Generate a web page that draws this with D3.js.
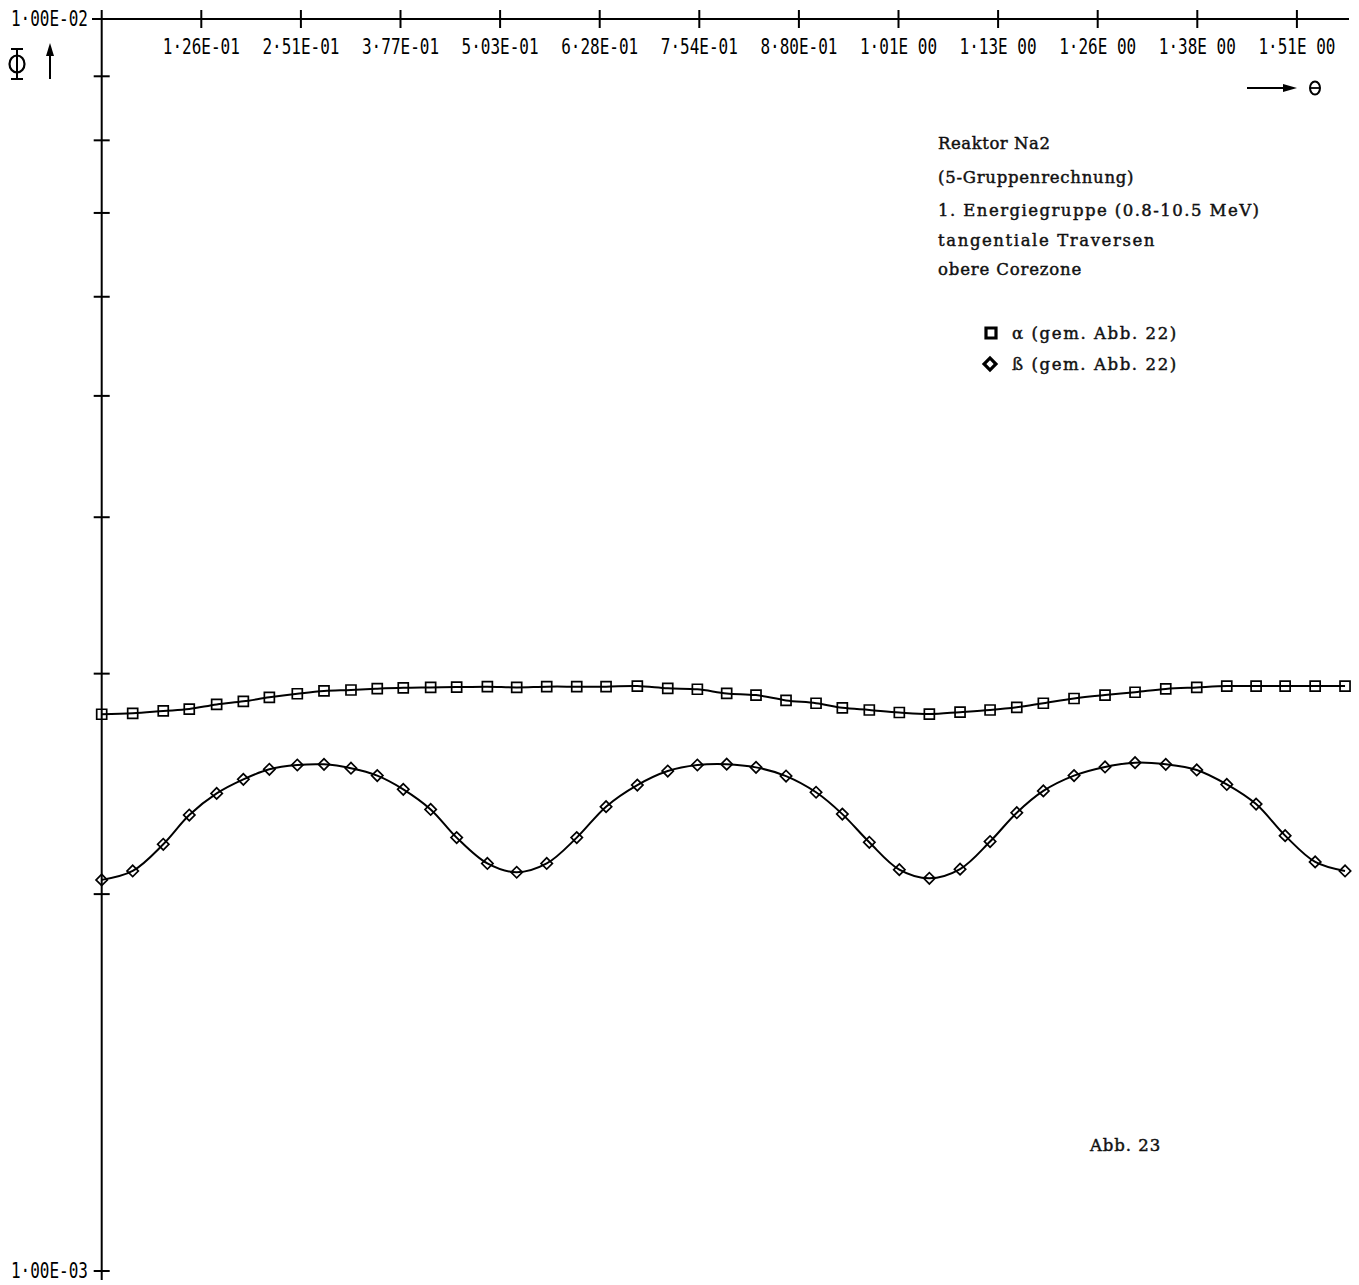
<!DOCTYPE html>
<html>
<head>
<meta charset="utf-8">
<script src="https://cdn.jsdelivr.net/npm/d3@7"></script>
<style>
  body { margin: 0; background: #fff; }
  svg { display: block; }
  .plot { font-family: 'DejaVu Sans Mono', monospace; }
</style>
</head>
<body>
<script>
// angle of each traverse point (degrees)
const thetaDeg = [0, 2.24, 4.45, 6.33, 8.31, 10.24, 12.12, 14.14, 16.07, 18.02, 19.92, 21.8, 23.78, 25.66, 27.88,
  30.0, 32.17, 34.34, 36.46, 38.72, 40.92, 43.06, 45.18, 47.3, 49.47, 51.64, 53.54, 55.49, 57.66,
  59.83, 62.05, 64.22, 66.15, 68.07, 70.29, 72.53, 74.7, 76.92, 79.16, 81.33, 83.45, 85.55, 87.72, 89.88];

// flux values in units of 1e-3
const alphaVals = [2.784, 2.789, 2.801, 2.811, 2.835, 2.851, 2.872, 2.891, 2.906, 2.911, 2.918, 2.923, 2.925, 2.927, 2.929,
  2.925, 2.929, 2.929, 2.929, 2.932, 2.92, 2.915, 2.893, 2.884, 2.856, 2.841, 2.817, 2.806, 2.793,
  2.785, 2.795, 2.806, 2.82, 2.841, 2.866, 2.884, 2.899, 2.917, 2.925, 2.932, 2.932, 2.932, 2.932, 2.932];

const betaVals = [2.053, 2.087, 2.192, 2.313, 2.407, 2.47, 2.516, 2.536, 2.539, 2.521, 2.487, 2.425, 2.337, 2.219, 2.116,
  2.082, 2.116, 2.219, 2.349, 2.444, 2.508, 2.536, 2.54, 2.525, 2.485, 2.412, 2.317, 2.2, 2.092,
  2.059, 2.094, 2.203, 2.323, 2.418, 2.487, 2.527, 2.547, 2.539, 2.513, 2.447, 2.36, 2.227, 2.122, 2.087];

const xTickLabels = ['1·26E-01', '2·51E-01', '3·77E-01', '5·03E-01', '6·28E-01', '7·54E-01',
  '8·80E-01', '1·01E 00', '1·13E 00', '1·26E 00', '1·38E 00', '1·51E 00'];
const xTickValues = d3.range(1, 13).map(i => i * Math.PI / 25);

const yTickValues = [1e-3, 2e-3, 3e-3, 4e-3, 5e-3, 6e-3, 7e-3, 8e-3, 9e-3, 1e-2];
const yEndLabels = [{ v: 1e-2, t: '1·00E-02' }, { v: 1e-3, t: '1·00E-03' }];

const noteLines = ['Reaktor Na2', '(5-Gruppenrechnung)', '1. Energiegruppe (0.8-10.5 MeV)',
  'tangentiale Traversen', 'obere Corezone'];
const noteY = [143, 177, 210, 240, 269];

drawChart();

// typewriter-like text: serif face spread to a fixed pitch
function typeText(sel, str, px, py) {
  return sel.append('text')
    .attr('x', px).attr('y', py)
    .attr('font-family', 'DejaVu Serif, Liberation Serif, serif')
    .attr('font-size', 16.5)
    .attr('fill', '#111')
    .attr('stroke', '#111')
    .attr('stroke-width', 0.45)
    .attr('textLength', str.length * 10.45 - 3)
    .attr('lengthAdjust', 'spacing')
    .text(str);
}

function drawChart() {
  let width = 1359, height = 1285;
  let svg = d3.select('body').append('svg').attr('width', width).attr('height', height).attr('class', 'plot');
  svg.append('rect').attr('width', width).attr('height', height).attr('fill', '#fff');

  let x = d3.scaleLinear().domain([0, Math.PI / 2]).range([101.7, 1346.7]);
  let y = d3.scaleLog().domain([1e-3, 1e-2]).range([1271, 19]);

  // top axis (theta)
  svg.append('line').attr('x1', 92).attr('x2', 1349).attr('y1', y(1e-2)).attr('y2', y(1e-2))
    .attr('stroke', '#000').attr('stroke-width', 2);
  svg.selectAll('.xtick').data(xTickValues).enter().append('line')
    .attr('class', 'xtick')
    .attr('x1', d => x(d)).attr('x2', d => x(d))
    .attr('y1', y(1e-2) - 9).attr('y2', y(1e-2) + 9)
    .attr('stroke', '#000').attr('stroke-width', 2);
  svg.selectAll('.xlab').data(xTickValues).enter().append('text')
    .attr('class', 'xlab')
    .attr('transform', d => `translate(${x(d)},54) scale(1,1.35)`)
    .attr('text-anchor', 'middle')
    .attr('font-size', 16)
    .text((d, i) => xTickLabels[i]);

  // left axis (phi, log)
  svg.append('line').attr('x1', x(0)).attr('x2', x(0)).attr('y1', 10).attr('y2', 1280)
    .attr('stroke', '#000').attr('stroke-width', 2);
  svg.selectAll('.ytick').data(yTickValues).enter().append('line')
    .attr('class', 'ytick')
    .attr('x1', x(0) - 8).attr('x2', x(0) + 8)
    .attr('y1', d => y(d)).attr('y2', d => y(d))
    .attr('stroke', '#000').attr('stroke-width', 2);
  svg.selectAll('.ylab').data(yEndLabels).enter().append('text')
    .attr('class', 'ylab')
    .attr('transform', d => `translate(88,${y(d.v) + 7}) scale(1,1.35)`)
    .attr('text-anchor', 'end')
    .attr('font-size', 16)
    .text(d => d.t);

  // axis symbols
  svg.append('ellipse').attr('cx', 17).attr('cy', 64).attr('rx', 7.5).attr('ry', 8.5)
    .attr('fill', 'none').attr('stroke', '#000').attr('stroke-width', 2.2);
  svg.append('line').attr('x1', 17).attr('x2', 17).attr('y1', 49).attr('y2', 79).attr('stroke', '#000').attr('stroke-width', 2);
  svg.append('line').attr('x1', 11).attr('x2', 23).attr('y1', 49).attr('y2', 49).attr('stroke', '#000').attr('stroke-width', 2);
  svg.append('line').attr('x1', 11).attr('x2', 23).attr('y1', 79).attr('y2', 79).attr('stroke', '#000').attr('stroke-width', 2);
  svg.append('line').attr('x1', 50).attr('x2', 50).attr('y1', 52).attr('y2', 79).attr('stroke', '#000').attr('stroke-width', 2);
  svg.append('path').attr('d', 'M50,43 L46,56 L54,56 Z').attr('fill', '#000');

  svg.append('line').attr('x1', 1247).attr('x2', 1286).attr('y1', 88).attr('y2', 88).attr('stroke', '#000').attr('stroke-width', 2);
  svg.append('path').attr('d', 'M1297,88 L1283,84 L1283,92 Z').attr('fill', '#000');
  svg.append('ellipse').attr('cx', 1315).attr('cy', 88).attr('rx', 5).attr('ry', 6.5)
    .attr('fill', 'none').attr('stroke', '#000').attr('stroke-width', 2);
  svg.append('line').attr('x1', 1310).attr('x2', 1320).attr('y1', 88).attr('y2', 88).attr('stroke', '#000').attr('stroke-width', 1.8);

  // curves
  let alphaData = thetaDeg.map((t, i) => [t * Math.PI / 180, alphaVals[i] * 1e-3]);
  let betaData = thetaDeg.map((t, i) => [t * Math.PI / 180, betaVals[i] * 1e-3]);
  let line = d3.line().x(d => x(d[0])).y(d => y(d[1])).curve(d3.curveCatmullRom.alpha(0.5));

  [alphaData, betaData].forEach(data => {
    svg.append('path').attr('d', line(data)).attr('fill', 'none')
      .attr('stroke', '#000').attr('stroke-width', 2);
  });

  let square = d3.symbol(d3.symbolSquare, 100);
  svg.append('g').selectAll('path').data(alphaData).enter().append('path')
    .attr('d', square)
    .attr('transform', d => `translate(${x(d[0])},${y(d[1])})`)
    .attr('fill', 'none').attr('stroke', '#000').attr('stroke-width', 1.7);

  let diamond = d3.symbol(d3.symbolSquare, 64);
  svg.append('g').selectAll('path').data(betaData).enter().append('path')
    .attr('d', diamond)
    .attr('transform', d => `translate(${x(d[0])},${y(d[1])}) rotate(45)`)
    .attr('fill', 'none').attr('stroke', '#000').attr('stroke-width', 1.7);

  // annotation
  noteLines.forEach((s, i) => typeText(svg, s, 938, noteY[i] + 6));

  svg.append('path').attr('d', d3.symbol(d3.symbolSquare, 100))
    .attr('transform', 'translate(991,333)')
    .attr('fill', 'none').attr('stroke', '#000').attr('stroke-width', 3.2);
  typeText(svg, 'α (gem. Abb. 22)', 1012, 339);
  svg.append('path').attr('d', d3.symbol(d3.symbolSquare, 70))
    .attr('transform', 'translate(990,364) rotate(45)')
    .attr('fill', 'none').attr('stroke', '#000').attr('stroke-width', 3.2);
  typeText(svg, 'ß (gem. Abb. 22)', 1012, 370);

  typeText(svg, 'Abb. 23', 1090, 1151);
}
</script>
</body>
</html>
